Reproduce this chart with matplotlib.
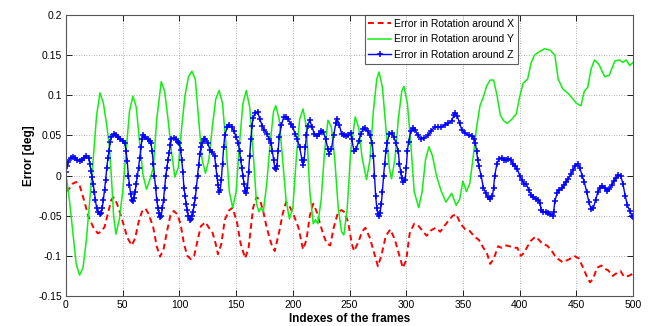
import matplotlib
matplotlib.use("Agg")
import matplotlib.pyplot as plt
from matplotlib.ticker import FuncFormatter, MultipleLocator

plt.rcParams['font.family'] = ['Liberation Sans', 'DejaVu Sans']
plt.rcParams['axes.unicode_minus'] = False

# ---- data ----
green_pts = [
    (0, 0.002), (3, -0.03), (6, -0.07), (9, -0.11), (12, -0.124), (15, -0.115), (18, -0.08),
    (21, -0.03), (24, 0.02), (27, 0.075), (30, 0.103), (33, 0.09), (36, 0.062), (38, 0.04),
    (40, 0.0), (42, -0.05), (44, -0.073), (47, -0.055), (50, -0.02), (53, 0.03), (56, 0.08),
    (59, 0.099), (62, 0.085), (65, 0.04), (68, 0.0), (71, -0.017), (74, -0.005), (77, 0.01),
    (80, 0.07), (84, 0.117), (87, 0.105), (90, 0.07), (93, 0.03), (96, -0.002), (99, 0.01),
    (102, 0.06), (105, 0.1), (108, 0.123), (111, 0.13), (114, 0.12), (117, 0.07), (120, 0.02),
    (123, 0.003), (126, 0.02), (129, 0.06), (132, 0.095), (135, 0.106), (138, 0.09), (141, 0.04),
    (144, -0.02), (147, -0.04), (150, -0.02), (153, 0.04), (156, 0.09), (159, 0.106), (162, 0.085),
    (165, 0.03), (168, -0.035), (170, -0.045), (172, -0.04), (174, -0.045), (177, -0.01),
    (180, 0.04), (183, 0.08), (185, 0.087), (188, 0.07), (191, 0.02), (194, -0.03), (197, -0.054),
    (200, -0.04), (203, 0.02), (206, 0.07), (209, 0.083), (212, 0.06), (215, -0.02), (218, -0.06),
    (220, -0.055), (222, -0.06), (225, -0.03), (228, 0.03), (231, 0.069), (234, 0.06), (237, 0.02),
    (240, -0.04), (243, -0.07), (245, -0.074), (248, -0.04), (251, 0.03), (255, 0.073), (258, 0.06),
    (261, 0.023), (265, -0.005), (268, 0.02), (271, 0.08), (274, 0.12), (276, 0.129), (279, 0.11),
    (282, 0.06), (285, 0.01), (287, -0.004), (290, 0.02), (293, 0.07), (296, 0.105), (298, 0.111),
    (301, 0.09), (304, 0.04), (307, -0.02), (311, -0.04), (314, -0.02), (317, 0.02), (320, 0.036),
    (323, 0.025), (327, -0.002), (331, -0.02), (335, -0.033), (340, -0.022), (344, -0.037),
    (347, -0.03), (350, -0.007), (353, -0.02), (356, -0.01), (359, 0.023), (362, 0.06), (365, 0.087),
    (368, 0.098), (371, 0.112), (374, 0.119), (377, 0.119), (380, 0.1), (383, 0.075), (386, 0.068),
    (389, 0.065), (393, 0.07), (397, 0.077), (400, 0.098), (403, 0.115), (407, 0.12), (410, 0.14),
    (413, 0.15), (417, 0.154), (422, 0.158), (427, 0.156), (431, 0.15), (434, 0.12), (438, 0.108),
    (443, 0.102), (446, 0.097), (450, 0.09), (454, 0.087), (457, 0.105), (460, 0.11), (463, 0.133),
    (466, 0.144), (470, 0.138), (475, 0.123), (479, 0.125), (484, 0.143), (488, 0.144), (491, 0.141),
    (494, 0.144), (497, 0.137), (500, 0.141),
]

red_pts = [
    (0, -0.02), (3, -0.016), (6, -0.01), (9, -0.008), (12, -0.012), (16, -0.031), (20, -0.052),
    (24, -0.064), (28, -0.072), (31, -0.07), (34, -0.064), (37, -0.047), (40, -0.03), (42, -0.027),
    (45, -0.035), (48, -0.048), (51, -0.062), (54, -0.077), (58, -0.087), (61, -0.078), (64, -0.058),
    (67, -0.045), (70, -0.041), (73, -0.048), (77, -0.065), (80, -0.088), (83, -0.101), (86, -0.092),
    (89, -0.07), (92, -0.05), (95, -0.044), (98, -0.048), (101, -0.06), (104, -0.085), (107, -0.1),
    (110, -0.104), (113, -0.1), (116, -0.081), (119, -0.063), (123, -0.058), (126, -0.065),
    (129, -0.07), (132, -0.085), (134, -0.098), (137, -0.085), (140, -0.055), (144, -0.043),
    (147, -0.04), (151, -0.06), (154, -0.085), (158, -0.103), (161, -0.09), (165, -0.04),
    (168, -0.027), (171, -0.03), (174, -0.045), (177, -0.065), (181, -0.085), (184, -0.094),
    (188, -0.07), (191, -0.048), (194, -0.033), (197, -0.038), (201, -0.05), (205, -0.065),
    (209, -0.092), (212, -0.08), (215, -0.05), (218, -0.035), (221, -0.045), (224, -0.06),
    (227, -0.074), (230, -0.085), (233, -0.087), (236, -0.065), (240, -0.045), (243, -0.043),
    (246, -0.046), (249, -0.06), (252, -0.085), (254, -0.094), (258, -0.082), (261, -0.07),
    (264, -0.065), (268, -0.078), (272, -0.098), (275, -0.113), (278, -0.1), (282, -0.075),
    (286, -0.067), (290, -0.08), (294, -0.1), (297, -0.115), (300, -0.105), (303, -0.072),
    (307, -0.06), (311, -0.063), (315, -0.07), (318, -0.075), (322, -0.068), (326, -0.065),
    (330, -0.07), (334, -0.062), (338, -0.055), (341, -0.05), (344, -0.048), (348, -0.06),
    (352, -0.067), (356, -0.069), (360, -0.076), (364, -0.08), (368, -0.09), (371, -0.096),
    (374, -0.11), (377, -0.104), (381, -0.088), (384, -0.09), (388, -0.087), (391, -0.088),
    (395, -0.09), (398, -0.09), (401, -0.1), (404, -0.096), (407, -0.088), (410, -0.081),
    (414, -0.076), (417, -0.08), (420, -0.085), (424, -0.087), (428, -0.093), (432, -0.102),
    (435, -0.105), (438, -0.108), (441, -0.106), (444, -0.104), (448, -0.1), (452, -0.103),
    (456, -0.115), (459, -0.125), (462, -0.133), (465, -0.128), (468, -0.115), (472, -0.112),
    (475, -0.116), (478, -0.118), (482, -0.125), (486, -0.121), (489, -0.119), (492, -0.126),
    (496, -0.125), (500, -0.122),
]

blue_pts = [
    (0, 0.005), (1, 0.012), (2, 0.017), (4, 0.022), (6, 0.023), (8, 0.022), (10, 0.02), (12, 0.018),
    (14, 0.019), (16, 0.022), (18, 0.025), (20, 0.022), (21, 0.015), (22, 0.006), (23, -0.002),
    (24, -0.01), (25, -0.02), (26, -0.031), (27, -0.04), (28, -0.045), (30, -0.048), (31, -0.047),
    (32, -0.04), (33, -0.03), (34, -0.018), (35, -0.005), (36, 0.01), (37, 0.022), (38, 0.031),
    (39, 0.042), (40, 0.048), (42, 0.052), (44, 0.051), (46, 0.048), (48, 0.046), (50, 0.043),
    (52, 0.04), (53, 0.03), (54, 0.018), (55, 0.0), (56, -0.012), (57, -0.023), (58, -0.03),
    (59, -0.032), (60, -0.028), (61, -0.02), (62, -0.01), (63, 0.0), (64, 0.01), (65, 0.022),
    (66, 0.035), (67, 0.045), (68, 0.05), (70, 0.048), (72, 0.045), (74, 0.043), (75, 0.04),
    (76, 0.03), (77, 0.015), (78, 0.0), (79, -0.015), (80, -0.03), (81, -0.04), (82, -0.047),
    (83, -0.052), (84, -0.05), (85, -0.04), (86, -0.03), (87, -0.015), (88, 0.0), (89, 0.01),
    (90, 0.02), (91, 0.028), (92, 0.038), (93, 0.046), (95, 0.047), (97, 0.046), (99, 0.042),
    (100, 0.04), (101, 0.032), (102, 0.02), (103, 0.005), (104, -0.015), (105, -0.025),
    (106, -0.035), (107, -0.043), (108, -0.05), (109, -0.055), (110, -0.054), (111, -0.05),
    (112, -0.045), (113, -0.037), (114, -0.028), (115, -0.015), (116, 0.0), (117, 0.013),
    (118, 0.027), (119, 0.035), (120, 0.04), (122, 0.045), (123, 0.046), (125, 0.04), (127, 0.032),
    (129, 0.029), (131, 0.025), (132, 0.012), (133, 0.0), (134, -0.012), (135, -0.021),
    (136, -0.018), (137, -0.005), (138, 0.015), (139, 0.035), (140, 0.05), (142, 0.06),
    (144, 0.0625), (146, 0.06), (148, 0.056), (150, 0.048), (152, 0.04), (153, 0.03), (154, 0.02),
    (155, 0.01), (156, 0.0), (157, -0.01), (158, -0.019), (159, -0.022), (160, -0.015),
    (161, 0.005), (162, 0.025), (163, 0.045), (164, 0.062), (165, 0.072), (167, 0.078),
    (169, 0.079), (171, 0.07), (173, 0.062), (175, 0.057), (177, 0.052), (179, 0.046), (181, 0.04),
    (182, 0.03), (183, 0.02), (184, 0.01), (185, 0.008), (186, 0.012), (187, 0.03), (188, 0.048),
    (190, 0.063), (192, 0.073), (194, 0.073), (196, 0.07), (198, 0.064), (200, 0.06), (202, 0.052),
    (204, 0.045), (206, 0.035), (208, 0.02), (209, 0.013), (210, 0.02), (211, 0.035), (212, 0.05),
    (213, 0.062), (215, 0.069), (217, 0.06), (219, 0.052), (221, 0.049), (223, 0.052), (225, 0.055),
    (227, 0.054), (229, 0.045), (231, 0.033), (232, 0.027), (234, 0.033), (236, 0.05), (238, 0.066),
    (239, 0.071), (241, 0.063), (243, 0.052), (245, 0.05), (247, 0.049), (249, 0.051),
    (251, 0.053), (252, 0.045), (254, 0.03), (256, 0.033), (258, 0.043), (260, 0.052),
    (262, 0.058), (264, 0.059), (266, 0.055), (268, 0.05), (270, 0.04), (271, 0.025), (272, 0.0),
    (273, -0.025), (274, -0.04), (275, -0.048), (276, -0.05), (277, -0.046), (278, -0.035),
    (279, -0.02), (280, 0.0), (281, 0.015), (282, 0.03), (283, 0.04), (285, 0.052), (287, 0.053),
    (289, 0.048), (291, 0.04), (293, 0.03), (294, 0.015), (295, 0.005), (296, -0.003),
    (297, -0.008), (299, -0.006), (300, 0.01), (301, 0.03), (302, 0.042), (304, 0.055),
    (306, 0.059), (308, 0.057), (310, 0.05), (313, 0.046), (316, 0.047), (319, 0.05), (322, 0.056),
    (325, 0.06), (328, 0.06), (331, 0.06), (334, 0.063), (337, 0.065), (340, 0.068), (342, 0.075),
    (343, 0.078), (345, 0.074), (347, 0.065), (349, 0.057), (352, 0.053), (355, 0.05),
    (358, 0.049), (360, 0.046), (361, 0.04), (362, 0.03), (363, 0.02), (364, 0.012), (366, 0.0),
    (368, -0.015), (370, -0.022), (372, -0.027), (374, -0.029), (376, -0.026), (377, -0.015),
    (378, 0.0), (380, 0.015), (382, 0.021), (384, 0.022), (386, 0.02), (388, 0.02), (390, 0.021),
    (392, 0.02), (394, 0.015), (396, 0.012), (398, 0.008), (400, 0.0), (402, -0.006),
    (404, -0.01), (406, -0.011), (408, -0.018), (410, -0.024), (412, -0.027), (414, -0.029),
    (416, -0.03), (418, -0.034), (419, -0.043), (421, -0.045), (423, -0.045), (425, -0.046),
    (427, -0.048), (429, -0.05), (430, -0.045), (431, -0.032), (433, -0.022), (435, -0.018),
    (437, -0.016), (439, -0.012), (441, -0.008), (443, -0.004), (445, 0.002), (447, 0.007),
    (449, 0.012), (451, 0.015), (453, 0.01), (455, 0.0), (457, -0.008), (459, -0.02),
    (461, -0.033), (463, -0.042), (465, -0.04), (467, -0.03), (469, -0.02), (471, -0.015),
    (473, -0.013), (475, -0.016), (477, -0.019), (479, -0.017), (481, -0.012), (483, -0.007),
    (485, -0.003), (487, 0.001), (489, 0.0), (491, -0.01), (493, -0.025), (495, -0.037),
    (497, -0.044), (499, -0.05), (500, -0.052),
]

labels = ["Error in Rotation around X", "Error in Rotation around Y", "Error in Rotation around Z"]
x_ticks = list(range(0, 501, 50))

red_f, red_v = zip(*red_pts)
green_f, green_v = zip(*green_pts)
blue_f, blue_v = zip(*blue_pts)

fig = plt.figure(figsize=(6.5, 3.26), dpi=100)
ax = fig.add_axes([0.1015, 0.092, 0.8725, 0.862])

ax.plot(red_f, red_v, color='#ff0000', linestyle=(0, (3, 2)), linewidth=1.4, label=labels[0])
ax.plot(green_f, green_v, color='#11ee11', linestyle='-', linewidth=1.1, label=labels[1])
ax.plot(blue_f, blue_v, color='#0000ff', linestyle='-', linewidth=1.0, marker='+',
        markersize=4, markeredgewidth=1.1, label=labels[2])

ax.set_xlim(0, 500)
ax.set_ylim(-0.15, 0.2)
ax.set_xticks(x_ticks)
ax.yaxis.set_major_locator(MultipleLocator(0.05))
ax.yaxis.set_major_formatter(FuncFormatter(lambda v, p: ('%g' % round(v, 4)) if abs(v) > 1e-9 else '0'))

ax.grid(True, linestyle=(0, (1, 2)), color='#999999', linewidth=0.6)
ax.tick_params(direction='in', length=4, width=0.6, labelsize=7.5, colors='black',
               top=True, right=True, pad=3)
for s in ax.spines.values():
    s.set_color('#555555')
    s.set_linewidth(0.8)

ax.set_xlabel("Indexes of the frames", fontsize=8.5, fontweight='bold', labelpad=2)
ax.set_ylabel("Error [deg]", fontsize=8.5, fontweight='bold', labelpad=2)

leg = ax.legend(loc='upper right', bbox_to_anchor=(0.797, 1.0), borderaxespad=0.0,
                fontsize=7.5, frameon=True, fancybox=False, handlelength=2.2,
                handletextpad=0.3, labelspacing=0.55, borderpad=0.35)
leg.get_frame().set_edgecolor('#333333')
leg.get_frame().set_linewidth(0.8)

fig.savefig("out.png", dpi=100)
